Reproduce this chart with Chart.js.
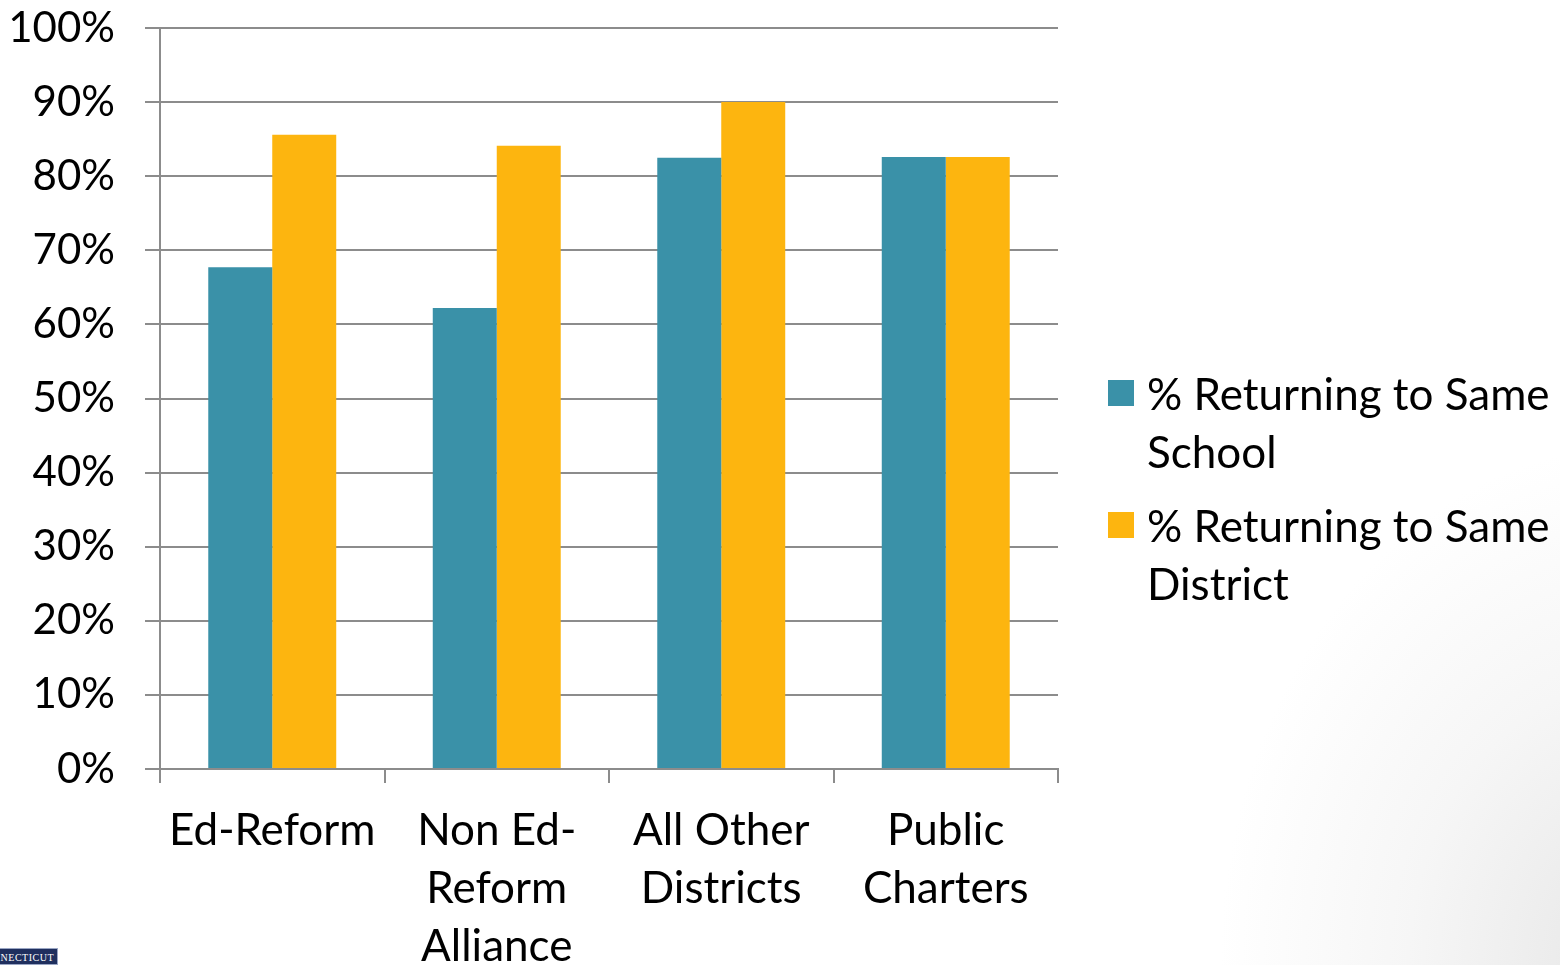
<!DOCTYPE html>
<html>
<head>
<meta charset="utf-8">
<script src="https://cdn.jsdelivr.net/npm/chart.js@4"></script>
<style>
  html, body { margin: 0; padding: 0; }
  body {
    width: 1560px; height: 965px; overflow: hidden; position: relative;
    background: radial-gradient(ellipse 420px 520px at 1640px 965px, #e6e6e6 0%, #f6f6f6 55%, #ffffff 100%);
    font-family: Lato, "Open Sans", sans-serif;
  }
  #wrap { position: absolute; left: 0; top: 0; width: 1560px; height: 965px; }
  #legend { position: absolute; left: 1108px; top: 364px; font-size: 44px; line-height: 58px; color: #000; }
  .item { position: relative; padding-left: 39px; margin-bottom: 16px; white-space: nowrap; }
  .sw { position: absolute; left: 0; top: 16px; width: 26px; height: 26px; }
  #logo { position: absolute; left: -6px; top: 948px; width: 64px; height: 17px; background: #1f2f5e; border: 1px solid #9aa6c4; color: #fff; font-family: "Liberation Serif", serif; font-size: 10px; line-height: 17px; text-align: right; padding-right: 3px; box-sizing: border-box; letter-spacing: 0.5px; }
</style>
</head>
<body>
<div id="wrap"><canvas id="c" width="1560" height="965"></canvas></div>
<div id="legend"></div>
<div id="logo">NECTICUT</div>
<script>
const categories = [["Ed-Reform"], ["Non Ed-", "Reform", "Alliance"], ["All Other", "Districts"], ["Public", "Charters"]];
const seriesNames = [["% Returning to Same", "School"], ["% Returning to Same", "District"]];
const sameSchool = [67.7, 62.2, 82.5, 82.6];
const sameDistrict = [85.6, 84.1, 90.0, 82.6];
const yTicks = [0, 10, 20, 30, 40, 50, 60, 70, 80, 90, 100];
const colors = ["#3A91A8", "#FDB50F"];

const fam = "Lato, 'Open Sans', sans-serif";

const chart = new Chart(document.getElementById("c"), {
  type: "bar",
  data: {
    labels: categories,
    datasets: [
      { label: seriesNames[0].join(" "), data: sameSchool, backgroundColor: colors[0] },
      { label: seriesNames[1].join(" "), data: sameDistrict, backgroundColor: colors[1] }
    ]
  },
  options: {
    responsive: false,
    animation: false,
    devicePixelRatio: 1,
    layout: { padding: { top: 28, right: 502, left: 0, bottom: 0 } },
    datasets: { bar: { categoryPercentage: 0.57, barPercentage: 1.0 } },
    plugins: { legend: { display: false }, tooltip: { enabled: false } },
    scales: {
      x: {
        grid: { display: true, drawOnChartArea: false, drawTicks: true, tickLength: 14, color: "#8c8c8c", lineWidth: 2, offset: true },
        border: { display: true, color: "#8c8c8c", width: 2 },
        ticks: { color: "#000", font: { family: fam, size: 44, lineHeight: 1.32 }, padding: 19, maxRotation: 0, autoSkip: false },
        afterFit: (s) => { s.height = 196; }
      },
      y: {
        min: 0, max: 100,
        afterBuildTicks: (s) => { s.ticks = yTicks.map(v => ({ value: v })); },
        grid: { color: "#8c8c8c", lineWidth: 2, tickLength: 15, drawTicks: true },
        border: { display: true, color: "#8c8c8c", width: 2 },
        ticks: { color: "#000", font: { family: fam, size: 42, lineHeight: 1.2 }, padding: 30, callback: (v) => v + "%" },
        afterFit: (s) => { s.width = 160; s.paddingTop = 0; s.paddingBottom = 0; }
      }
    }
  }
});

const legend = document.getElementById("legend");
seriesNames.forEach((lines, i) => {
  const d = document.createElement("div");
  d.className = "item";
  d.innerHTML = '<span class="sw" style="background:' + colors[i] + '"></span>' + lines.join("<br>");
  legend.appendChild(d);
});
</script>
</body>
</html>
